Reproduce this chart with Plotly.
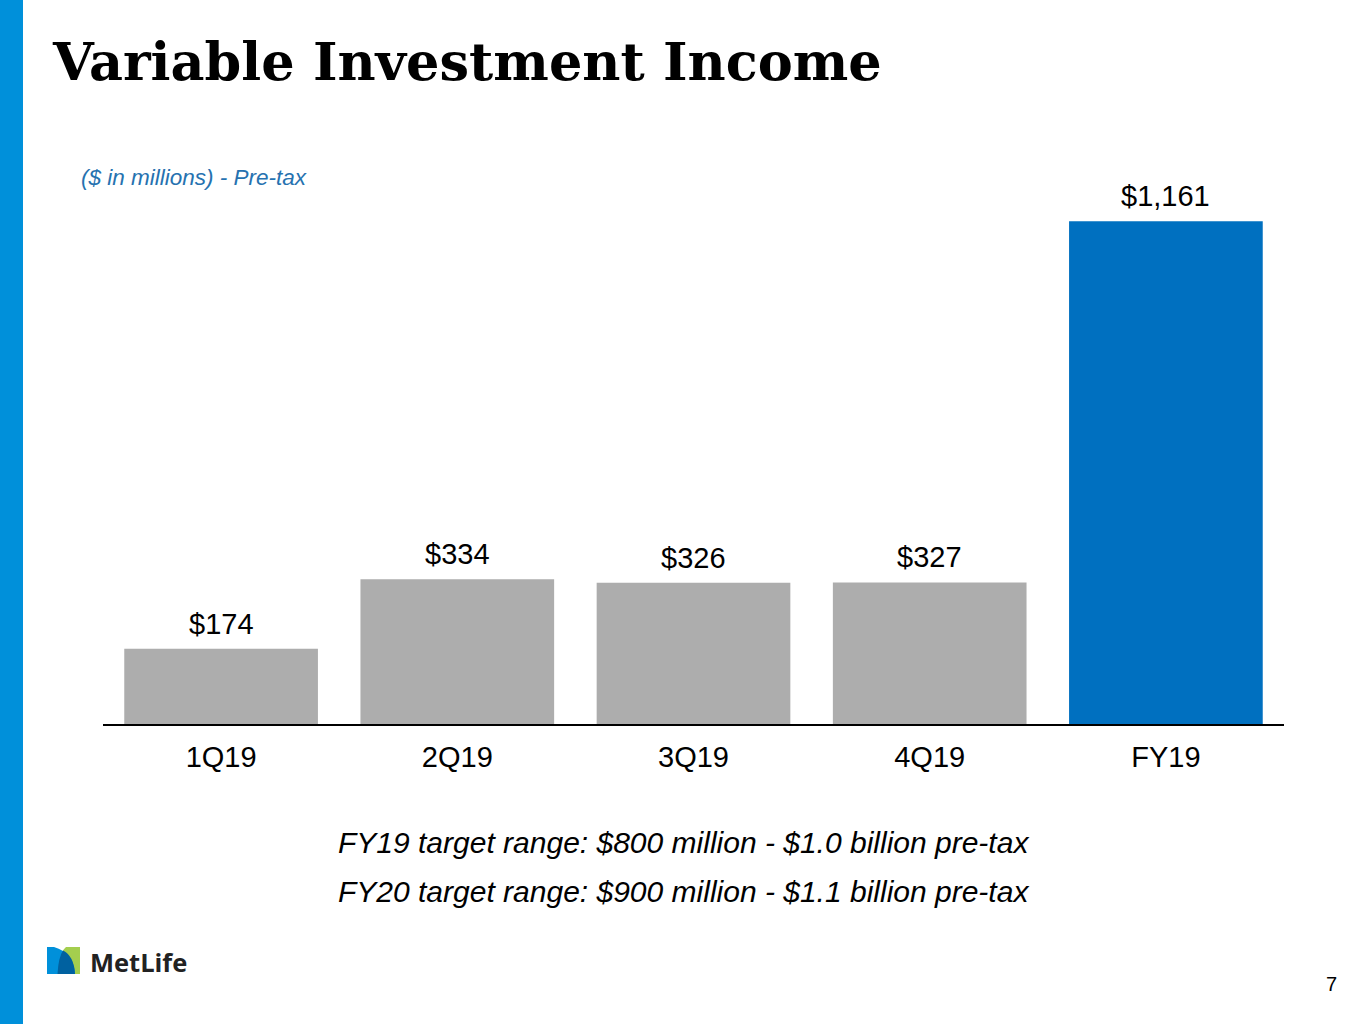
import plotly.graph_objects as go

# ---- data ----
categories = ["1Q19", "2Q19", "3Q19", "4Q19", "FY19"]
values = [174, 334, 326, 327, 1161]
bar_colors = ["#ADADAD", "#ADADAD", "#ADADAD", "#ADADAD", "#0070C0"]
title_text = "Variable Investment Income"
subtitle_text = "($ in millions) - Pre-tax"
footnotes = [
    "FY19 target range: $800 million - $1.0 billion pre-tax",
    "FY20 target range: $900 million - $1.1 billion pre-tax",
]
page_number = "7"

# ---- layout geometry (pixels) ----
W, H = 1365, 1024
L, R = 103, 1284
T, B = 161, 724
PW, PH = R - L, B - T


def px(x):
    return (x - L) / PW


def py(y):
    return (B - y) / PH


fig = go.Figure()
fig.add_trace(go.Bar(
    x=categories, y=values,
    marker=dict(color=bar_colors, line=dict(width=0)),
    hoverinfo="skip",
))

annotations = []
for c, v in zip(categories, values):
    annotations.append(dict(
        x=c, y=v, xref="x", yref="y", text=f"${v:,}", showarrow=False,
        yanchor="bottom", yshift=7,
        font=dict(family="Liberation Sans, Arial", size=29, color="#000000"),
    ))

annotations.append(dict(
    x=px(50), y=py(62), xref="paper", yref="paper", text=f"<b>{title_text}</b>",
    showarrow=False, xanchor="left", yanchor="middle",
    font=dict(family="DejaVu Serif", size=52.5, color="#000000"),
))
annotations.append(dict(
    x=px(79), y=py(177), xref="paper", yref="paper", text=f"<i>{subtitle_text}</i>",
    showarrow=False, xanchor="left", yanchor="middle",
    font=dict(family="Liberation Sans, Arial", size=22.5, color="#2672B0"),
))
for i, f in enumerate(footnotes):
    annotations.append(dict(
        x=px(683), y=py(842 + 49 * i), xref="paper", yref="paper", text=f"<i>{f}</i>",
        showarrow=False, xanchor="center", yanchor="middle",
        font=dict(family="Liberation Sans, Arial", size=30, color="#000000"),
    ))
annotations.append(dict(
    x=px(1339), y=py(984), xref="paper", yref="paper", text=page_number,
    showarrow=False, xanchor="right", yanchor="middle",
    font=dict(family="Liberation Sans, Arial", size=20, color="#000000"),
))
annotations.append(dict(
    x=px(88), y=py(962), xref="paper", yref="paper", text="<b>MetLife</b>",
    showarrow=False, xanchor="left", yanchor="middle",
    font=dict(family="Open Sans", size=25.5, color="#222222"),
))


def path(points_cmds):
    out = []
    for cmd, pts in points_cmds:
        coords = " ".join(f"{px(a):.5f},{py(b):.5f}" for a, b in pts)
        out.append(f"{cmd} {coords}")
    return " ".join(out) + " Z"


shapes = [
    # left blue stripe
    dict(type="rect", xref="paper", yref="paper",
         x0=px(0), x1=px(23), y0=py(1024), y1=py(0),
         fillcolor="#0090DA", line=dict(width=0), layer="above"),
    # logo green
    dict(type="path", xref="paper", yref="paper",
         path=path([("M", [(80, 947)]), ("L", [(80, 974)]), ("L", [(57, 974)]),
                    ("Q", [(58, 954), (66, 947)])]),
         fillcolor="#A4CE4E", line=dict(width=0)),
    # logo blue
    dict(type="path", xref="paper", yref="paper",
         path=path([("M", [(47, 947)]), ("L", [(54, 947)]),
                    ("Q", [(74, 953), (75, 974)]), ("L", [(47, 974)])]),
         fillcolor="#0090DA", line=dict(width=0)),
    # logo overlap
    dict(type="path", xref="paper", yref="paper",
         path=path([("M", [(57.5, 974)]), ("Q", [(58.5, 957), (63, 950.5)]),
                    ("Q", [(74, 956), (75, 974)])]),
         fillcolor="#0061A0", line=dict(width=0)),
]

fig.update_layout(
    width=W, height=H,
    margin=dict(l=L, r=W - R, t=T, b=H - B, pad=0),
    paper_bgcolor="#FFFFFF", plot_bgcolor="#FFFFFF",
    showlegend=False, bargap=0.18,
    annotations=annotations, shapes=shapes,
    xaxis=dict(
        showline=True, linecolor="#000000", linewidth=2, showgrid=False, zeroline=False,
        ticks="outside", ticklen=6, tickcolor="rgba(0,0,0,0)",
        tickfont=dict(family="Liberation Sans, Arial", size=29, color="#000000"),
        fixedrange=True,
    ),
    yaxis=dict(visible=False, range=[0, 1300], showgrid=False, zeroline=False, fixedrange=True),
)

fig.write_html("out.html", post_script="document.body.style.margin='0';",
               config={"displayModeBar": False})
